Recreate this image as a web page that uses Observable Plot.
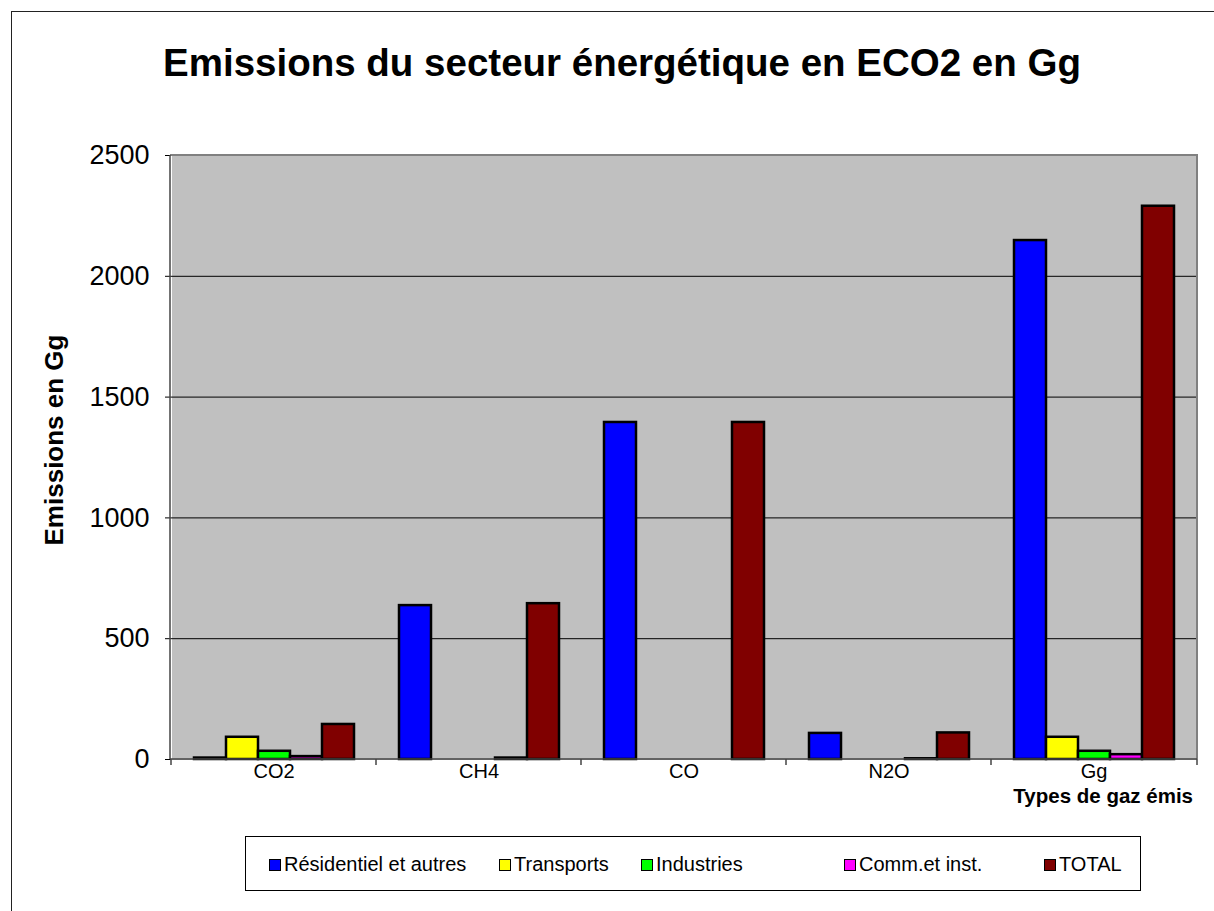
<!DOCTYPE html>
<html><head><meta charset="utf-8">
<script src="https://cdn.jsdelivr.net/npm/d3@7"></script>
<script src="https://cdn.jsdelivr.net/npm/@observablehq/plot@0.6"></script>
<style>
html,body{margin:0;padding:0;background:#fff;overflow:hidden;width:1214px;height:911px;}
body{position:relative;font-family:"Liberation Sans",Arial,sans-serif;color:#000;}
#chart{position:absolute;left:0;top:0;}
#border{position:absolute;left:11px;top:11px;width:1300px;height:1000px;border:1.5px solid #222;box-sizing:border-box;}
#title{position:absolute;left:0;width:1244px;top:44px;text-align:center;font-weight:bold;font-size:38.5px;line-height:38px;white-space:nowrap;}
#legend{position:absolute;left:245px;top:836px;width:896px;height:55px;border:1px solid #000;box-sizing:border-box;background:#fff;}
.item{position:absolute;top:0;height:55px;display:flex;align-items:center;font-size:20px;white-space:nowrap;}
.sw{width:10px;height:10px;border:1.5px solid #000;margin-right:3px;}
</style></head><body>
<div id="chart"></div>
<div id="border"></div>
<div id="title">Emissions du secteur énergétique en ECO2 en Gg</div>
<div id="legend"></div>
<script>
const gases = ["CO2", "CH4", "CO", "N2O", "Gg"];
const seriesNames = ["Résidentiel et autres", "Transports", "Industries", "Comm.et inst.", "TOTAL"];
const seriesColors = ["#0000FF", "#FFFF00", "#00FF00", "#FF00FF", "#800000"];
const residentiel = [6, 637, 1395, 108, 2148];
const transports = [92, 0, 0, 0, 92];
const industries = [34, 0, 0, 0, 34];
const commInst = [12, 6, 0, 3, 20];
const totalVals = [145, 645, 1395, 110, 2290];
const yTicks = [0, 500, 1000, 1500, 2000, 2500];
const legendX = [23, 253, 395, 598, 798];

const seriesValues = [residentiel, transports, industries, commInst, totalVals];
const rows = [];
seriesNames.forEach((s, i) => {
  gases.forEach((g, j) => {
    const v = seriesValues[i][j];
    if (v > 0) rows.push({gas: g, series: s, value: v});
  });
});

const W = 1214, H = 911, ML = 170, MR = 17, MT = 155, MB = 152;
const plot = Plot.plot({
  width: W, height: H,
  marginLeft: ML, marginRight: MR, marginTop: MT, marginBottom: MB,
  style: {fontFamily: "'Liberation Sans', Arial, sans-serif", fontSize: "20px", background: "transparent", color: "#000"},
  fx: {domain: gases, padding: 0, label: null, axis: null},
  x: {domain: seriesNames, paddingInner: 0, paddingOuter: 0.66, axis: null},
  y: {domain: [0, 2500], axis: null},
  color: {domain: seriesNames, range: seriesColors},
  marks: [
    Plot.frame({fill: "#C0C0C0", stroke: "none", shapeRendering: "crispEdges"}),
    Plot.ruleY([500, 1000, 1500, 2000], {stroke: "#000", strokeWidth: 1}),
    Plot.barY(rows, {fx: "gas", x: "series", y: "value", fill: "series", stroke: "#000", strokeWidth: 2.5}),
    Plot.axisFx({anchor: "bottom", tickSize: 0, tickPadding: 4, fontSize: 20, label: null}),
    Plot.axisY({anchor: "left", ticks: yTicks, tickSize: 6, tickPadding: 16, fontSize: 27, label: null, tickFormat: d3.format("d"), stroke: "#000"})
  ]
});
document.getElementById("chart").appendChild(plot);

const svg = d3.select(plot);
const y = plot.scale("y"), fx = plot.scale("fx");
const y0 = y.apply(0), yTop = y.apply(2500);
const left = ML, right = W - MR;
svg.append("path").attr("d", `M${left},${yTop}H${right}V${y0}`)
  .attr("fill", "none").attr("stroke", "#808080").attr("stroke-width", 2);
svg.append("line").attr("x1", left).attr("x2", left).attr("y1", yTop).attr("y2", y0)
  .attr("stroke", "#444").attr("stroke-width", 1.5);
svg.append("line").attr("x1", left).attr("x2", right).attr("y1", y0).attr("y2", y0)
  .attr("stroke", "#444").attr("stroke-width", 1.5);
const bounds = gases.map(g => fx.apply(g)).concat([right]);
bounds.forEach(x => {
  svg.append("line").attr("x1", x).attr("x2", x).attr("y1", y0).attr("y2", y0 + 6)
    .attr("stroke", "#444").attr("stroke-width", 1.5);
});
svg.append("text").attr("transform", "translate(63,440) rotate(-90)")
  .attr("text-anchor", "middle").attr("font-weight", "bold").attr("font-size", 26)
  .attr("font-family", "'Liberation Sans', Arial, sans-serif").text("Emissions en Gg");
svg.append("text").attr("x", 1193).attr("y", 803).attr("text-anchor", "end")
  .attr("font-weight", "bold").attr("font-size", 20.5)
  .attr("font-family", "'Liberation Sans', Arial, sans-serif").text("Types de gaz émis");

const legend = document.getElementById("legend");
seriesNames.forEach((s, i) => {
  const it = document.createElement("div");
  it.className = "item";
  it.style.left = legendX[i] + "px";
  const sw = document.createElement("div");
  sw.className = "sw";
  sw.style.background = seriesColors[i];
  it.appendChild(sw);
  it.appendChild(document.createTextNode(s));
  legend.appendChild(it);
});
</script>
</body></html>
